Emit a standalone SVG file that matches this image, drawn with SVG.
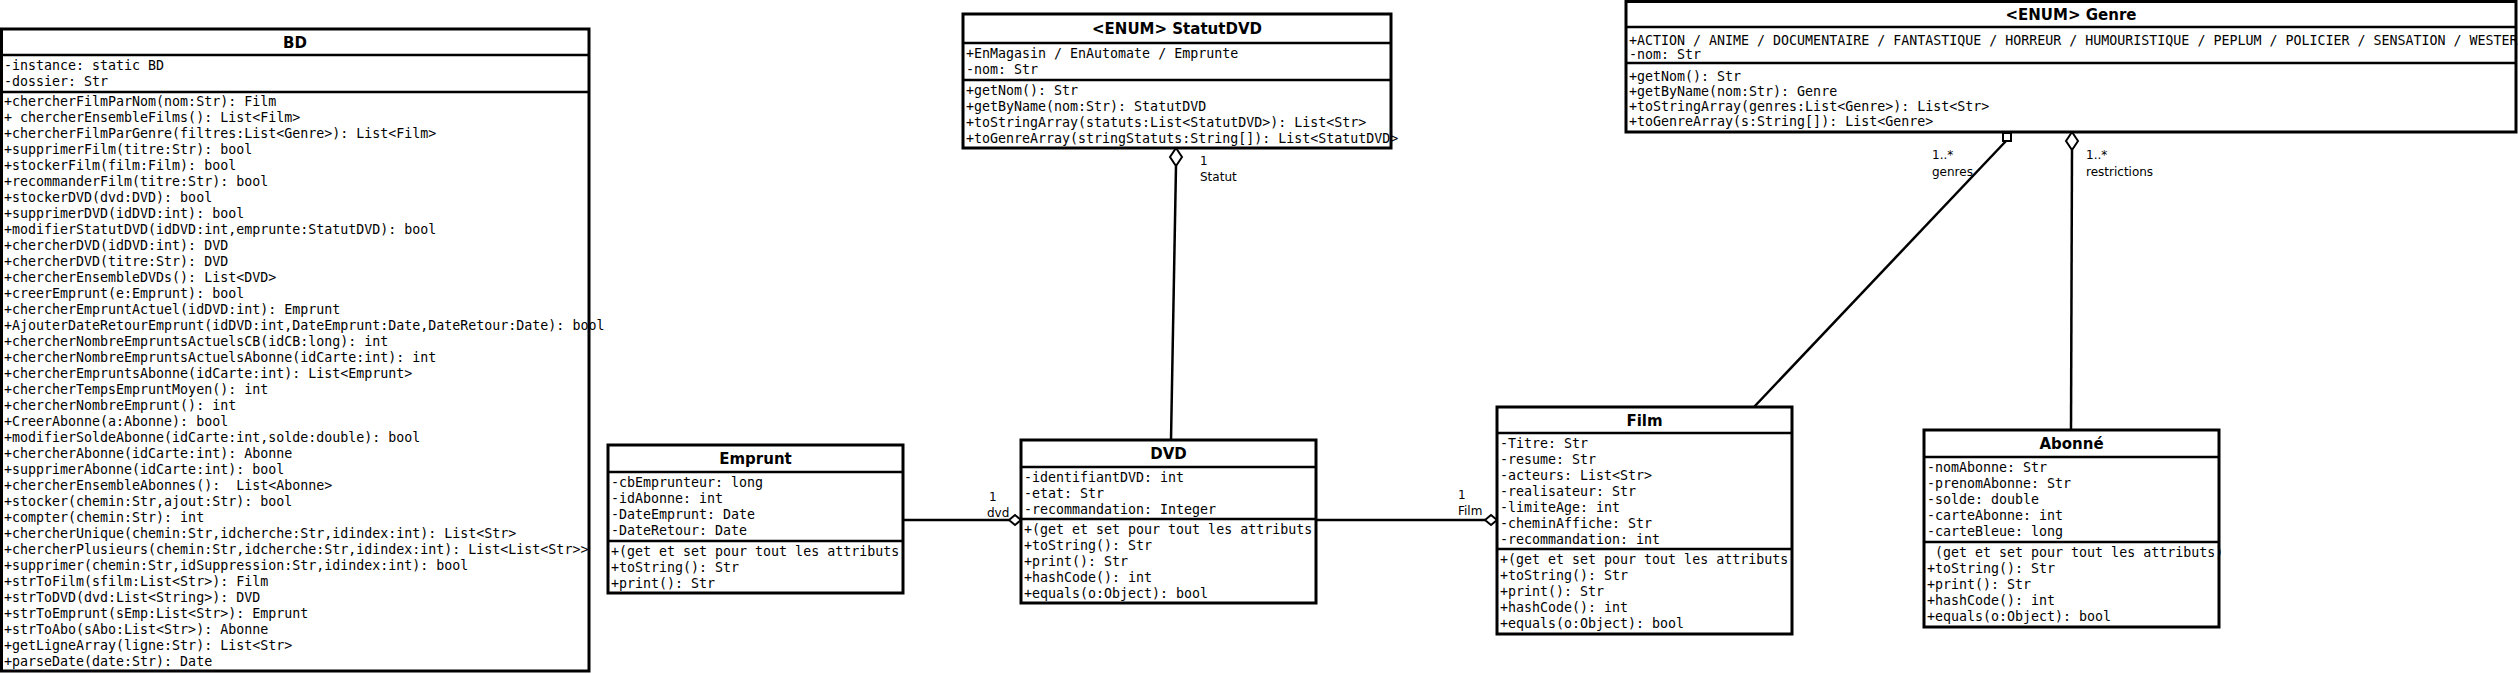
<svg xmlns="http://www.w3.org/2000/svg" width="2518" height="674" viewBox="0 0 2518 674">
<style>
.box{fill:#fff;stroke:#000;stroke-width:3}
.div{stroke:#000;stroke-width:2.5}
.t{font-family:"DejaVu Sans Mono","Liberation Mono",monospace;font-size:13.3px;fill:#000;white-space:pre}
.h{font-family:"DejaVu Sans","Liberation Sans",sans-serif;font-size:15px;font-weight:bold;fill:#000;text-anchor:middle}
.l{font-family:"DejaVu Sans","Liberation Sans",sans-serif;font-size:12px;fill:#000}
.c{stroke:#000;stroke-width:2.5;fill:none}
.d{fill:#fff;stroke:#000;stroke-width:2}
</style>
<g id="connectors">
<line class="c" x1="903" y1="520" x2="1009" y2="520"/>
<polygon class="d" points="1009,520 1015,515 1021,520 1015,525"/>
<text class="l" x="989" y="501">1</text>
<text class="l" x="987" y="517">dvd</text>
<line class="c" x1="1316" y1="520" x2="1485" y2="520"/>
<polygon class="d" points="1485,520 1491,515 1497,520 1491,525"/>
<text class="l" x="1458" y="499">1</text>
<text class="l" x="1458" y="515">Film</text>
<line class="c" x1="1176" y1="166" x2="1171" y2="440"/>
<polygon class="d" points="1176,148 1182,157 1176,166 1170,157"/>
<text class="l" x="1200" y="165">1</text>
<text class="l" x="1200" y="181">Statut</text>
<line class="c" x1="2006" y1="141" x2="1754" y2="407"/>
<rect class="d" x="2003" y="133" width="8" height="8"/>
<text class="l" x="1932" y="159">1..*</text>
<text class="l" x="1932" y="176">genres</text>
<line class="c" x1="2072" y1="150" x2="2071" y2="430"/>
<polygon class="d" points="2072,132 2078,141 2072,150 2066,141"/>
<text class="l" x="2086" y="159">1..*</text>
<text class="l" x="2086" y="176">restrictions</text>
</g>
<g id="BD">
<rect class="box" x="1.5" y="29" width="587.5" height="642"/>
<line class="div" x1="1.5" y1="55" x2="589" y2="55"/>
<line class="div" x1="1.5" y1="92" x2="589" y2="92"/>
<text class="h" x="295" y="47.5">BD</text>
<text class="t" x="4" y="70">-instance: static BD</text>
<text class="t" x="4" y="86">-dossier: Str</text>
<text class="t" x="4" y="106">+chercherFilmParNom(nom:Str): Film</text>
<text class="t" x="4" y="122">+ chercherEnsembleFilms(): List&lt;Film&gt;</text>
<text class="t" x="4" y="138">+chercherFilmParGenre(filtres:List&lt;Genre&gt;): List&lt;Film&gt;</text>
<text class="t" x="4" y="154">+supprimerFilm(titre:Str): bool</text>
<text class="t" x="4" y="170">+stockerFilm(film:Film): bool</text>
<text class="t" x="4" y="186">+recommanderFilm(titre:Str): bool</text>
<text class="t" x="4" y="202">+stockerDVD(dvd:DVD): bool</text>
<text class="t" x="4" y="218">+supprimerDVD(idDVD:int): bool</text>
<text class="t" x="4" y="234">+modifierStatutDVD(idDVD:int,emprunte:StatutDVD): bool</text>
<text class="t" x="4" y="250">+chercherDVD(idDVD:int): DVD</text>
<text class="t" x="4" y="266">+chercherDVD(titre:Str): DVD</text>
<text class="t" x="4" y="282">+chercherEnsembleDVDs(): List&lt;DVD&gt;</text>
<text class="t" x="4" y="298">+creerEmprunt(e:Emprunt): bool</text>
<text class="t" x="4" y="314">+chercherEmpruntActuel(idDVD:int): Emprunt</text>
<text class="t" x="4" y="330">+AjouterDateRetourEmprunt(idDVD:int,DateEmprunt:Date,DateRetour:Date): bool</text>
<text class="t" x="4" y="346">+chercherNombreEmpruntsActuelsCB(idCB:long): int</text>
<text class="t" x="4" y="362">+chercherNombreEmpruntsActuelsAbonne(idCarte:int): int</text>
<text class="t" x="4" y="378">+chercherEmpruntsAbonne(idCarte:int): List&lt;Emprunt&gt;</text>
<text class="t" x="4" y="394">+chercherTempsEmpruntMoyen(): int</text>
<text class="t" x="4" y="410">+chercherNombreEmprunt(): int</text>
<text class="t" x="4" y="426">+CreerAbonne(a:Abonne): bool</text>
<text class="t" x="4" y="442">+modifierSoldeAbonne(idCarte:int,solde:double): bool</text>
<text class="t" x="4" y="458">+chercherAbonne(idCarte:int): Abonne</text>
<text class="t" x="4" y="474">+supprimerAbonne(idCarte:int): bool</text>
<text class="t" x="4" y="490">+chercherEnsembleAbonnes():  List&lt;Abonne&gt;</text>
<text class="t" x="4" y="506">+stocker(chemin:Str,ajout:Str): bool</text>
<text class="t" x="4" y="522">+compter(chemin:Str): int</text>
<text class="t" x="4" y="538">+chercherUnique(chemin:Str,idcherche:Str,idindex:int): List&lt;Str&gt;</text>
<text class="t" x="4" y="554">+chercherPlusieurs(chemin:Str,idcherche:Str,idindex:int): List&lt;List&lt;Str&gt;&gt;</text>
<text class="t" x="4" y="570">+supprimer(chemin:Str,idSuppression:Str,idindex:int): bool</text>
<text class="t" x="4" y="586">+strToFilm(sfilm:List&lt;Str&gt;): Film</text>
<text class="t" x="4" y="602">+strToDVD(dvd:List&lt;String&gt;): DVD</text>
<text class="t" x="4" y="618">+strToEmprunt(sEmp:List&lt;Str&gt;): Emprunt</text>
<text class="t" x="4" y="634">+strToAbo(sAbo:List&lt;Str&gt;): Abonne</text>
<text class="t" x="4" y="650">+getLigneArray(ligne:Str): List&lt;Str&gt;</text>
<text class="t" x="4" y="666">+parseDate(date:Str): Date</text>
</g>
<g id="Emprunt">
<rect class="box" x="608" y="445" width="295" height="148"/>
<line class="div" x1="608" y1="472" x2="903" y2="472"/>
<line class="div" x1="608" y1="541" x2="903" y2="541"/>
<text class="h" x="755.5" y="464">Emprunt</text>
<text class="t" x="611" y="486.5">-cbEmprunteur: long</text>
<text class="t" x="611" y="502.5">-idAbonne: int</text>
<text class="t" x="611" y="518.5">-DateEmprunt: Date</text>
<text class="t" x="611" y="534.5">-DateRetour: Date</text>
<text class="t" x="611" y="556">+(get et set pour tout les attributs</text>
<text class="t" x="611" y="572">+toString(): Str</text>
<text class="t" x="611" y="588">+print(): Str</text>
</g>
<g id="DVD">
<rect class="box" x="1021" y="440" width="295" height="163"/>
<line class="div" x1="1021" y1="467" x2="1316" y2="467"/>
<line class="div" x1="1021" y1="519" x2="1316" y2="519"/>
<text class="h" x="1168.5" y="459">DVD</text>
<text class="t" x="1024" y="482">-identifiantDVD: int</text>
<text class="t" x="1024" y="498">-etat: Str</text>
<text class="t" x="1024" y="514">-recommandation: Integer</text>
<text class="t" x="1024" y="534">+(get et set pour tout les attributs</text>
<text class="t" x="1024" y="550">+toString(): Str</text>
<text class="t" x="1024" y="566">+print(): Str</text>
<text class="t" x="1024" y="582">+hashCode(): int</text>
<text class="t" x="1024" y="598">+equals(o:Object): bool</text>
</g>
<g id="StatutDVD">
<rect class="box" x="963" y="14" width="428" height="134"/>
<line class="div" x1="963" y1="43" x2="1391" y2="43"/>
<line class="div" x1="963" y1="80" x2="1391" y2="80"/>
<text class="h" x="1177" y="34">&lt;ENUM&gt; StatutDVD</text>
<text class="t" x="966" y="58">+EnMagasin / EnAutomate / Emprunte</text>
<text class="t" x="966" y="74">-nom: Str</text>
<text class="t" x="966" y="95">+getNom(): Str</text>
<text class="t" x="966" y="111">+getByName(nom:Str): StatutDVD</text>
<text class="t" x="966" y="127">+toStringArray(statuts:List&lt;StatutDVD&gt;): List&lt;Str&gt;</text>
<text class="t" x="966" y="143">+toGenreArray(stringStatuts:String[]): List&lt;StatutDVD&gt;</text>
</g>
<g id="Genre">
<rect class="box" x="1626" y="1.5" width="890" height="130.5"/>
<line class="div" x1="1626" y1="27" x2="2516" y2="27"/>
<line class="div" x1="1626" y1="63" x2="2516" y2="63"/>
<text class="h" x="2071" y="19.5">&lt;ENUM&gt; Genre</text>
<text class="t" x="1629" y="44.5">+ACTION / ANIME / DOCUMENTAIRE / FANTASTIQUE / HORREUR / HUMOURISTIQUE / PEPLUM / POLICIER / SENSATION / WESTER</text>
<text class="t" x="1629" y="59">-nom: Str</text>
<text class="t" x="1629" y="80.5">+getNom(): Str</text>
<text class="t" x="1629" y="95.5">+getByName(nom:Str): Genre</text>
<text class="t" x="1629" y="110.5">+toStringArray(genres:List&lt;Genre&gt;): List&lt;Str&gt;</text>
<text class="t" x="1629" y="125.5">+toGenreArray(s:String[]): List&lt;Genre&gt;</text>
</g>
<g id="Film">
<rect class="box" x="1497" y="407" width="295" height="227"/>
<line class="div" x1="1497" y1="433" x2="1792" y2="433"/>
<line class="div" x1="1497" y1="549" x2="1792" y2="549"/>
<text class="h" x="1644.5" y="425.5">Film</text>
<text class="t" x="1500" y="448">-Titre: Str</text>
<text class="t" x="1500" y="464">-resume: Str</text>
<text class="t" x="1500" y="480">-acteurs: List&lt;Str&gt;</text>
<text class="t" x="1500" y="496">-realisateur: Str</text>
<text class="t" x="1500" y="512">-limiteAge: int</text>
<text class="t" x="1500" y="528">-cheminAffiche: Str</text>
<text class="t" x="1500" y="544">-recommandation: int</text>
<text class="t" x="1500" y="564">+(get et set pour tout les attributs</text>
<text class="t" x="1500" y="580">+toString(): Str</text>
<text class="t" x="1500" y="596">+print(): Str</text>
<text class="t" x="1500" y="612">+hashCode(): int</text>
<text class="t" x="1500" y="628">+equals(o:Object): bool</text>
</g>
<g id="Abonne">
<rect class="box" x="1924" y="430" width="295" height="197"/>
<line class="div" x1="1924" y1="457" x2="2219" y2="457"/>
<line class="div" x1="1924" y1="542" x2="2219" y2="542"/>
<text class="h" x="2071.5" y="449">Abonné</text>
<text class="t" x="1927" y="472">-nomAbonne: Str</text>
<text class="t" x="1927" y="488">-prenomAbonne: Str</text>
<text class="t" x="1927" y="504">-solde: double</text>
<text class="t" x="1927" y="520">-carteAbonne: int</text>
<text class="t" x="1927" y="536">-carteBleue: long</text>
<text class="t" x="1927" y="557"> (get et set pour tout les attributs)</text>
<text class="t" x="1927" y="573">+toString(): Str</text>
<text class="t" x="1927" y="589">+print(): Str</text>
<text class="t" x="1927" y="605">+hashCode(): int</text>
<text class="t" x="1927" y="621">+equals(o:Object): bool</text>
</g>
</svg>
